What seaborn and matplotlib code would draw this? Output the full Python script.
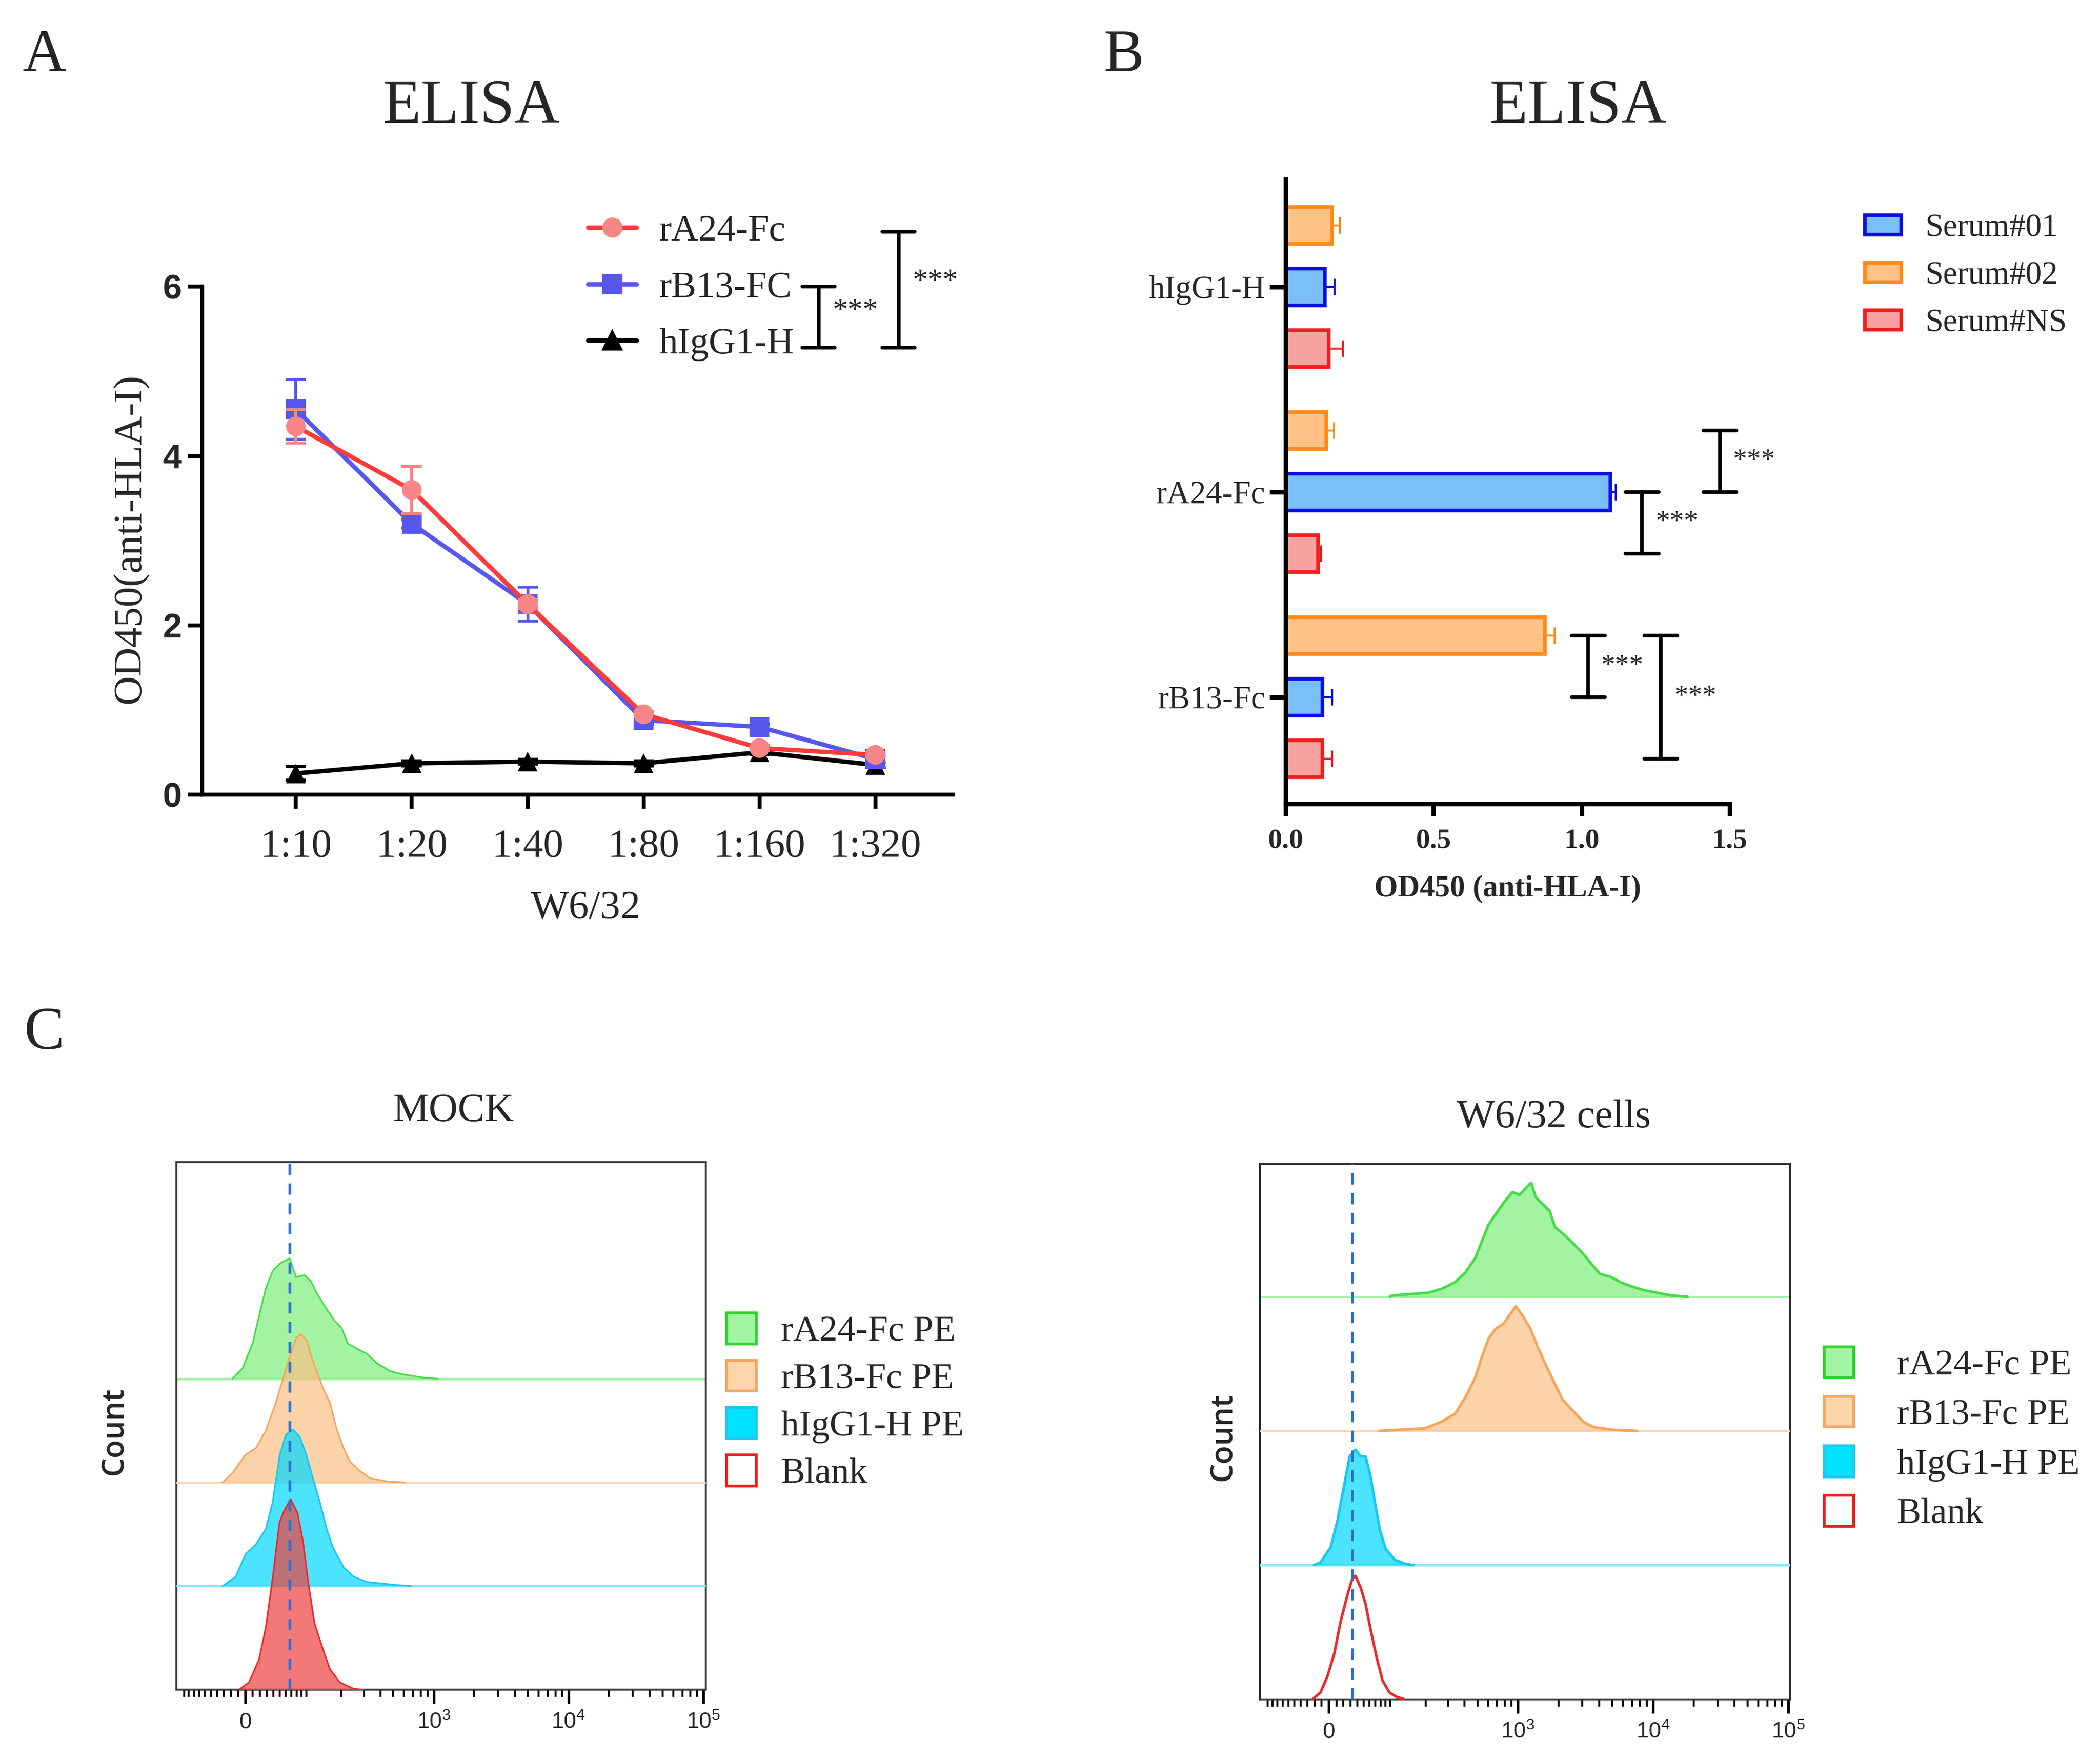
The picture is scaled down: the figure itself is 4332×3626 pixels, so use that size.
import numpy as np
import pandas as pd
import matplotlib
matplotlib.use("Agg")
import matplotlib.pyplot as plt
import matplotlib.ticker as mticker
import seaborn as sns
from matplotlib.lines import Line2D
from matplotlib.patches import Patch

sns.set_theme(style="ticks")
plt.rcParams['font.family'] = ['Liberation Serif', 'DejaVu Serif']
plt.rcParams['mathtext.default'] = 'regular'

SERIF = 'Liberation Serif'
SANS = 'Liberation Sans'

# ---------------- A: ELISA titration ----------------
dilutions = ["1:10", "1:20", "1:40", "1:80", "1:160", "1:320"]
a24_od = [4.35, 3.60, 2.25, 0.95, 0.55, 0.47]
a24_err = [0.20, 0.28, 0.05, 0.03, 0.03, 0.03]
b13_od = [4.55, 3.20, 2.25, 0.88, 0.80, 0.42]
b13_err = [0.35, 0.05, 0.20, 0.05, 0.03, 0.03]
igg_od = [0.25, 0.37, 0.39, 0.37, 0.50, 0.35]
igg_err = [0.08, 0.03, 0.03, 0.03, 0.03, 0.03]
a_samples = ["rA24-Fc", "rB13-FC", "hIgG1-H"]

# ---------------- B: ELISA serum binding ----------------
b_groups = ["hIgG1-H", "rA24-Fc", "rB13-Fc"]
b_sera = ["Serum#01", "Serum#02", "Serum#NS"]
od_serum01 = [0.133, 1.097, 0.124]
od_serum02 = [0.157, 0.137, 0.876]
od_serumNS = [0.146, 0.110, 0.124]
err_serum01 = [0.033, 0.018, 0.033]
err_serum02 = [0.027, 0.027, 0.032]
err_serumNS = [0.047, 0.009, 0.033]

# ---------------- C: flow histograms (channel units, height in track units) ----------------
hist_labels = ["rA24-Fc PE", "rB13-Fc PE", "hIgG1-H PE", "Blank"]

mock_a24_ch = [10.6, 12.5, 14.4, 15.6, 16.9, 18.2, 19.5, 21.4, 22.6, 24.2, 25.4, 26.7, 28.4, 29.9,
               31.2, 32.4, 34.1, 36.0, 37.9, 40.5, 43.0, 46.8, 49.4]
mock_a24_h = [0, 0.10, 0.34, 0.60, 0.87, 1.04, 1.11, 1.16, 0.98, 1.00, 0.94, 0.81, 0.67, 0.56,
              0.49, 0.34, 0.29, 0.24, 0.15, 0.07, 0.04, 0.01, 0]
mock_b13_ch = [8.7, 10.6, 13.1, 15.0, 16.9, 18.8, 20.1, 21.4, 22.6, 23.5, 24.6, 25.8, 27.7, 29.0,
               30.3, 31.6, 32.8, 34.7, 36.6, 39.8, 43.0]
mock_b13_h = [0, 0.09, 0.27, 0.33, 0.50, 0.77, 0.99, 1.21, 1.39, 1.43, 1.37, 1.17, 0.91, 0.77,
              0.51, 0.33, 0.20, 0.11, 0.04, 0.01, 0]
mock_igg_ch = [8.7, 11.2, 13.1, 15.0, 16.9, 18.2, 19.5, 20.7, 22.0, 23.3, 24.6, 25.8, 27.1, 28.4,
               29.6, 31.6, 33.5, 36.0, 41.7, 44.3]
mock_igg_h = [0, 0.09, 0.31, 0.40, 0.55, 0.81, 1.26, 1.46, 1.51, 1.44, 1.26, 1.04, 0.81, 0.55,
              0.37, 0.18, 0.09, 0.04, 0.01, 0]
mock_blank_ch = [11.8, 13.7, 15.6, 16.9, 18.2, 19.5, 20.4, 21.6, 22.9, 23.9, 24.9, 26.1, 27.5,
                 29.0, 30.9, 33.5, 35.4]
mock_blank_h = [0, 0.07, 0.29, 0.60, 1.08, 1.62, 1.73, 1.84, 1.70, 1.44, 1.04, 0.64, 0.42,
                0.20, 0.07, 0.01, 0]
mock_cut = 21.4

w632_a24_ch = [24.5, 25.0, 31.7, 34.3, 36.8, 38.7, 40.6, 41.9, 43.1, 44.7, 45.9, 47.6, 48.9, 50.1,
               51.1, 52.0, 53.3, 54.6, 55.6, 57.1, 59.0, 60.9, 62.8, 64.1, 66.0, 67.9, 69.8,
               72.3, 74.9, 77.4, 80.6]
w632_a24_h = [0, 0.01, 0.03, 0.06, 0.11, 0.18, 0.29, 0.42, 0.54, 0.63, 0.70, 0.78, 0.76, 0.81,
              0.85, 0.74, 0.69, 0.64, 0.52, 0.47, 0.40, 0.32, 0.23, 0.17, 0.15, 0.11, 0.08,
              0.05, 0.03, 0.01, 0]
w632_b13_ch = [22.5, 31.1, 34.3, 36.8, 38.7, 40.6, 41.9, 43.1, 44.4, 45.9, 47.0, 48.2, 49.5,
               51.0, 52.3, 53.9, 55.6, 57.1, 59.0, 60.9, 62.8, 66.0, 71.1]
w632_b13_h = [0, 0.02, 0.07, 0.13, 0.25, 0.40, 0.56, 0.69, 0.76, 0.80, 0.86, 0.93, 0.86,
              0.76, 0.63, 0.49, 0.35, 0.23, 0.15, 0.07, 0.03, 0.01, 0]
w632_igg_ch = [10.2, 11.4, 13.3, 14.6, 15.9, 16.9, 18.0, 19.0, 19.9, 20.8, 21.7, 22.6, 23.7,
               25.4, 27.3, 28.9]
w632_igg_h = [0, 0.02, 0.13, 0.33, 0.60, 0.81, 0.86, 0.81, 0.81, 0.67, 0.46, 0.26, 0.12,
              0.04, 0.01, 0]
w632_blank_ch = [9.9, 11.4, 12.7, 14.0, 15.2, 16.5, 17.4, 18.0, 19.0, 19.9, 20.9, 22.0, 23.1,
                 24.4, 25.6, 27.2]
w632_blank_h = [0, 0.05, 0.17, 0.34, 0.58, 0.78, 0.90, 0.92, 0.83, 0.71, 0.51, 0.31, 0.14,
                0.05, 0.02, 0]
w632_cut = 17.4

axis_decades = [0, 1e3, 1e4, 1e5]
axis_decade_labels = ["0", "$10^3$", "$10^4$", "$10^5$"]


def to_channel(v):
    # biexponential-like display transform of the cytometer axis
    return 13.0 + 11.07 * np.arcsinh(np.asarray(v, dtype=float) / 80.3)


fig = plt.figure(figsize=(4332 / 300, 3626 / 300), dpi=300)

# ======================= Panel A =======================
axA = fig.add_axes([0.0962, 0.548, 0.3576, 0.2889])
pos = np.arange(len(dilutions))
dfA = pd.DataFrame({
    "pos": np.tile(pos, 3),
    "od": a24_od + b13_od + igg_od,
    "err": a24_err + b13_err + igg_err,
    "sample": np.repeat(a_samples, len(dilutions)),
})
line_col = {"rA24-Fc": "#ff3a3a", "rB13-FC": "#5757ef", "hIgG1-H": "#000000"}
mark_col = {"rA24-Fc": "#f88686", "rB13-FC": "#5757ef", "hIgG1-H": "#000000"}
mark_shape = {"rA24-Fc": "o", "rB13-FC": "s", "hIgG1-H": "^"}

for i, name in enumerate(["hIgG1-H", "rB13-FC", "rA24-Fc"]):
    sub = dfA[dfA["sample"] == name]
    z = 2 + 3 * i
    axA.errorbar(sub["pos"], sub["od"], yerr=sub["err"], fmt="none", ecolor=mark_col[name],
                 elinewidth=1.4, capsize=5, capthick=1.4, zorder=z)
    sns.lineplot(data=sub, x="pos", y="od", color=line_col[name], lw=2.2, ax=axA,
                 errorbar=None, zorder=z + 1)
    sns.scatterplot(data=sub, x="pos", y="od", color=mark_col[name], marker=mark_shape[name],
                    s=95, edgecolor="none", ax=axA, zorder=z + 2)

axA.set_xlim(-0.81, 5.67)
axA.set_ylim(0, 6)
axA.set_xticks(pos)
axA.set_xticklabels(dilutions, fontsize=20, family=SERIF)
axA.set_yticks([0, 2, 4, 6])
axA.set_yticklabels(["0", "2", "4", "6"], fontsize=17, family=SANS, fontweight="bold")
sns.despine(ax=axA)
for s in ["left", "bottom"]:
    axA.spines[s].set_linewidth(2)
    axA.spines[s].set_color("black")
axA.tick_params(axis="both", direction="out", width=2, length=7, color="black")
axA.tick_params(axis="x", pad=10)
axA.tick_params(axis="y", pad=3)
axA.set_xlabel("W6/32", fontsize=20, family=SERIF)
axA.set_ylabel("OD450(anti-HLA-I)", fontsize=20, family=SERIF)
axA.xaxis.set_label_coords(0.511, -0.225)
axA.xaxis.label.set_va("center")
axA.yaxis.set_label_coords(-0.095, 0.504)
axA.yaxis.label.set_va("center")

handlesA = [Line2D([], [], color=line_col[n], lw=2.2, marker=mark_shape[n],
                   markerfacecolor=mark_col[n], markeredgecolor=mark_col[n], markersize=9)
            for n in a_samples]
fig.legend(handlesA, a_samples, loc="upper left", bbox_to_anchor=(0.280, 0.878),
           frameon=False, borderpad=0, borderaxespad=0, prop={"family": SERIF, "size": 18.5},
           handlelength=1.3, handletextpad=0.6, labelspacing=0.6)

# significance brackets (annotation)
for bx, y0, y1, tx, ty in [(4.51, 5.28, 6.0, 4.83, 5.70), (5.20, 5.28, 6.65, 5.52, 6.05)]:
    axA.plot([bx, bx], [y0, y1], color="black", lw=1.8, clip_on=False)
    axA.plot([bx - 0.14, bx + 0.14], [y0, y0], color="black", lw=1.8, clip_on=False)
    axA.plot([bx - 0.14, bx + 0.14], [y1, y1], color="black", lw=1.8, clip_on=False)
    axA.text(tx, ty, "***", ha="center", va="center", fontsize=15, family=SERIF)

# ======================= Panel B =======================
axB = fig.add_axes([0.6122, 0.5427, 0.2115, 0.3554])
dfB = pd.DataFrame({
    "group": b_groups * 3,
    "serum": np.repeat(b_sera, 3),
    "od": od_serum01 + od_serum02 + od_serumNS,
    "err": err_serum01 + err_serum02 + err_serumNS,
})
fill_col = {"Serum#01": "#7bbff7", "Serum#02": "#fec287", "Serum#NS": "#f8a1a1"}
edge_col = {"Serum#01": "#0d0de6", "Serum#02": "#ff8a17", "Serum#NS": "#f21d1d"}
stack_order = ["Serum#02", "Serum#01", "Serum#NS"]
sns.barplot(data=dfB, x="od", y="group", hue="serum", hue_order=stack_order, order=b_groups,
            orient="h", palette=fill_col, saturation=1, width=0.9, gap=0.4, errorbar=None,
            legend=False, linewidth=1.8, ax=axB)
for cont, name in zip(axB.containers, stack_order):
    sub = dfB[dfB["serum"] == name].set_index("group")
    xs, ys, es = [], [], []
    for p in cont:
        p.set_edgecolor(edge_col[name])
        yc = p.get_y() + p.get_height() / 2
        g = b_groups[int(round(yc))]
        xs.append(p.get_width())
        ys.append(yc)
        es.append(sub.loc[g, "err"])
    axB.errorbar(xs, ys, xerr=[np.zeros(len(es)), es], fmt="none", ecolor=edge_col[name],
                 elinewidth=1.0, capsize=4, capthick=1.0, zorder=1)

axB.set_xlim(0, 1.5)
axB.set_ylim(2.52, -0.525)
axB.set_xticks([0, 0.5, 1.0, 1.5])
axB.set_xticklabels(["0.0", "0.5", "1.0", "1.5"], fontsize=14, family=SERIF, fontweight="bold")
for lab in axB.get_yticklabels():
    lab.set_fontfamily(SERIF)
    lab.set_fontsize(16)
sns.despine(ax=axB)
for s in ["left", "bottom"]:
    axB.spines[s].set_linewidth(2.2)
    axB.spines[s].set_color("black")
axB.tick_params(axis="x", direction="out", width=2.2, length=6, color="black", pad=6)
axB.tick_params(axis="y", direction="out", width=2.2, length=8, color="black", pad=2)
axB.set_ylabel("")
axB.set_xlabel("OD450 (anti-HLA-I)", fontsize=15, family=SERIF, fontweight="bold")
axB.xaxis.set_label_coords(0.5, -0.136)
axB.xaxis.label.set_va("center")

for bx, y0, y1, tx in [(1.467, 0.7, 1.0, 1.51), (1.204, 1.0, 1.3, 1.25),
                       (1.022, 1.7, 2.0, 1.064), (1.267, 1.7, 2.3, 1.311)]:
    axB.plot([bx, bx], [y0, y1], color="black", lw=1.8, clip_on=False)
    axB.plot([bx - 0.056, bx + 0.056], [y0, y0], color="black", lw=1.8, clip_on=False)
    axB.plot([bx - 0.056, bx + 0.056], [y1, y1], color="black", lw=1.8, clip_on=False)
    axB.text(tx, (y0 + y1) / 2, "***", ha="left", va="center", fontsize=14, family=SERIF,
             clip_on=False)

handlesB = [Patch(facecolor=fill_col[s], edgecolor=edge_col[s], lw=1.8) for s in b_sera]
fig.legend(handlesB, b_sera, loc="upper left", bbox_to_anchor=(0.888, 0.8784), frameon=False,
           borderpad=0, borderaxespad=0, prop={"family": SERIF, "size": 16},
           handlelength=1.125, handleheight=0.55, handletextpad=0.75, labelspacing=0.55)

# ======================= Panel C =======================
face_c = ["#7dee7d", "#fcc185", "#00d8ff", "#ef4040"]
edge_c = ["#44dd44", "#f5a65a", "#18c8ef", "#ee2a2a"]
base_c = ["#a6f2a6", "#fbd8b6", "#8fe8fb", "#f7b0b0"]
legend_face = ["#a3f5a3", "#fdd5ab", "#00e3ff", "white"]
legend_edge = ["#2bd42b", "#f3a660", "#1ccbf0", "#ee1c1c"]

minor_vals = ([-100] + list(range(-90, 0, 10)) + list(range(10, 100, 10)) +
              [k * 10 ** n for n in (2, 3, 4) for k in range(1, 10)
               if not (k == 1 and n >= 3)])

panels = [
    dict(rect=[0.084, 0.0388, 0.252, 0.3002], ytop=5.09, cut=mock_cut,
         ch=[mock_a24_ch, mock_b13_ch, mock_igg_ch, mock_blank_ch],
         h=[mock_a24_h, mock_b13_h, mock_igg_h, mock_blank_h],
         filled=[True, True, True, True], lw=0.8, title="MOCK", title_xy=(0.216, 0.368),
         leg=(0.346, 0.2532), leg_pad=0.67, leg_sp=0.32, count_x=-0.117),
    dict(rect=[0.600, 0.0334, 0.2526, 0.3045], ytop=3.99, cut=w632_cut,
         ch=[w632_a24_ch, w632_b13_ch, w632_igg_ch, w632_blank_ch],
         h=[w632_a24_h, w632_b13_h, w632_igg_h, w632_blank_h],
         filled=[True, True, True, False], lw=1.3, title="W6/32 cells", title_xy=(0.740, 0.364),
         leg=(0.8686, 0.234), leg_pad=1.18, leg_sp=0.38, count_x=-0.069),
]

for pnl in panels:
    ax = fig.add_axes(pnl["rect"])
    n = len(pnl["ch"])
    for i in range(n):
        off = n - 1 - i
        ch = np.asarray(pnl["ch"][i])
        top = off + np.asarray(pnl["h"][i])
        if off > 0:
            ax.axhline(off, color=base_c[i], lw=1.2, zorder=2 + 3 * i)
        if pnl["filled"][i]:
            ax.fill_between(ch, off, top, color=face_c[i], alpha=0.7, lw=0, zorder=3 + 3 * i)
        sns.lineplot(x=ch, y=top, color=edge_c[i], lw=pnl["lw"], ax=ax, zorder=4 + 3 * i)
    ax.axvline(pnl["cut"], color="#2a6fd4", lw=1.4, ls=(0, (4, 3)), zorder=20)

    ax.set_xlim(0, 100)
    ax.set_ylim(0, pnl["ytop"])
    ax.set_yticks([])
    ax.xaxis.set_major_locator(mticker.FixedLocator(to_channel(axis_decades)))
    ax.xaxis.set_major_formatter(mticker.FixedFormatter(axis_decade_labels))
    ax.xaxis.set_minor_locator(mticker.FixedLocator(to_channel(minor_vals)))
    ax.tick_params(axis="x", which="major", direction="out", length=7, width=1.3,
                   color="black", labelsize=11, pad=4)
    ax.tick_params(axis="x", which="minor", direction="out", length=3.5, width=1.0,
                   color="black")
    for lab in ax.get_xticklabels():
        lab.set_fontfamily(SANS)
    for s in ax.spines.values():
        s.set_linewidth(1.0)
        s.set_color("#333333")
    ax.set_ylabel("Count", fontsize=15, family="Open Sans", fontweight="semibold")
    ax.yaxis.set_label_coords(pnl["count_x"], 0.49)
    ax.yaxis.label.set_va("center")

    fig.text(*pnl["title_xy"], pnl["title"], ha="center", va="center", fontsize=20,
             family=SERIF)
    handlesC = [Patch(facecolor=legend_face[i], edgecolor=legend_edge[i], lw=1.4)
                for i in range(len(hist_labels))]
    fig.legend(handlesC, hist_labels, loc="upper left", bbox_to_anchor=pnl["leg"],
               frameon=False, borderpad=0, borderaxespad=0, prop={"family": SERIF, "size": 18},
               handlelength=0.82, handleheight=0.93, handletextpad=pnl["leg_pad"],
               labelspacing=pnl["leg_sp"])

# titles and panel letters
fig.text(0.2244, 0.9387, "ELISA", ha="center", va="center", fontsize=31, family=SERIF)
fig.text(0.7513, 0.9387, "ELISA", ha="center", va="center", fontsize=31, family=SERIF)
fig.text(0.0212, 0.9678, "A", ha="center", va="center", fontsize=30, family=SERIF)
fig.text(0.535, 0.9678, "B", ha="center", va="center", fontsize=30, family=SERIF)
fig.text(0.0212, 0.4118, "C", ha="center", va="center", fontsize=30, family=SERIF)

fig.savefig("out.png", dpi=300)
